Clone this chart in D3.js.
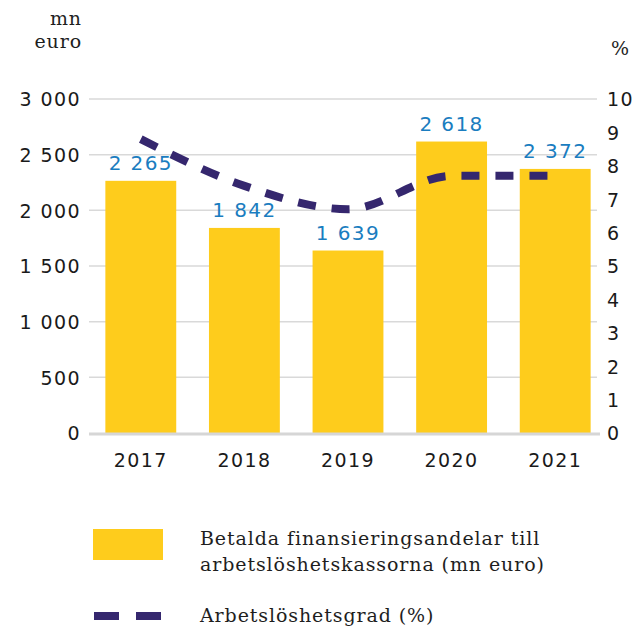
<!DOCTYPE html>
<html>
<head>
<meta charset="utf-8">
<script src="https://cdn.jsdelivr.net/npm/d3@7"></script>
<style>
  body { margin: 0; background: #fff; }
  .num { font-family: "DejaVu Sans", sans-serif; font-size: 19px; fill: #1a1a1a; letter-spacing: 1.4px; }
  .slab { font-family: "DejaVu Serif", serif; font-size: 19px; fill: #1e1e1e; letter-spacing: 0.9px; }
</style>
</head>
<body>
<svg id="chart" width="633" height="626"></svg>
<script>
// data
var years = ["2017", "2018", "2019", "2020", "2021"];
var payments = [2265, 1842, 1639, 2618, 2372];   // mn euro
var unemployment = [8.8, 7.4, 6.7, 7.7, 7.7];    // %
var leftTicks = [0, 500, 1000, 1500, 2000, 2500, 3000];
var rightTicks = [0, 1, 2, 3, 4, 5, 6, 7, 8, 9, 10];
var legendBar = ["Betalda finansieringsandelar till", "arbetslöshetskassorna (mn euro)"];
var legendLine = "Arbetslöshetsgrad (%)";

var yellow = "#fecc1c";
var purple = "#35276e";
var blue = "#1a7dc0";

var svg = d3.select("#chart");

var top0 = 99, bottom0 = 433;
var x = d3.scaleBand().domain(years).range([89, 607]).paddingInner(0.316).paddingOuter(0.158);
var yL = d3.scaleLinear().domain([0, 3000]).range([bottom0, top0]);
var yR = d3.scaleLinear().domain([0, 10]).range([bottom0, top0]);

var spaced = function(d) { return d3.format(",")(d).replace(/,/g, " "); };

// grid lines
svg.append("g").selectAll("line")
  .data(leftTicks.filter(function(d) { return d > 0; }))
  .enter().append("line")
    .attr("x1", 89).attr("x2", 597)
    .attr("y1", function(d) { return yL(d); })
    .attr("y2", function(d) { return yL(d); })
    .attr("stroke", "#d9d9d9").attr("stroke-width", 1.5);

// left axis labels
var axL = svg.append("g").attr("transform", "translate(89,0)")
  .call(d3.axisLeft(yL).tickValues(leftTicks).tickFormat(spaced).tickSize(0).tickPadding(8));
axL.select(".domain").remove();
axL.selectAll("text").attr("class", "num").attr("fill", null).attr("dy", "0.36em");

// right axis labels
var axR = svg.append("g").attr("transform", "translate(600,0)")
  .call(d3.axisRight(yR).tickValues(rightTicks).tickSize(0).tickPadding(7));
axR.select(".domain").remove();
axR.selectAll("text").attr("class", "num").attr("fill", null).attr("dy", "0.36em");

// bars
svg.append("g").selectAll("rect")
  .data(payments)
  .enter().append("rect")
    .attr("x", function(d, i) { return x(years[i]); })
    .attr("width", x.bandwidth())
    .attr("y", function(d) { return yL(d); })
    .attr("height", function(d) { return bottom0 - yL(d); })
    .attr("fill", yellow);

// baseline
svg.append("line")
  .attr("x1", 89).attr("x2", 600)
  .attr("y1", bottom0 + 1).attr("y2", bottom0 + 1)
  .attr("stroke", "#d6d6d6").attr("stroke-width", 3);

// bar value labels
svg.append("g").selectAll("text")
  .data(payments)
  .enter().append("text")
    .attr("class", "num")
    .style("fill", blue)
    .style("font-size", "20px")
    .attr("text-anchor", "middle")
    .attr("x", function(d, i) { return x(years[i]) + x.bandwidth() / 2; })
    .attr("y", function(d) { return yL(d) - 11; })
    .text(spaced);

// year labels
var axX = svg.append("g").attr("transform", "translate(0," + bottom0 + ")")
  .call(d3.axisBottom(x).tickSize(0).tickPadding(21));
axX.select(".domain").remove();
axX.selectAll("text").attr("class", "num").attr("fill", null);

// unemployment line
var line = d3.line()
  .curve(d3.curveMonotoneX)
  .x(function(d, i) { return x(years[i]) + x.bandwidth() / 2; })
  .y(function(d) { return yR(d); });

svg.append("path")
  .datum(unemployment)
  .attr("d", line)
  .attr("fill", "none")
  .attr("stroke", purple)
  .attr("stroke-width", 8)
  .attr("stroke-dasharray", "18,16");

// axis unit titles
svg.append("text").attr("class", "slab").attr("text-anchor", "end")
  .attr("x", 82).attr("y", 25).text("mn");
svg.append("text").attr("class", "slab").attr("text-anchor", "end")
  .attr("x", 82).attr("y", 48).text("euro");
svg.append("text").attr("class", "slab").attr("text-anchor", "start")
  .attr("x", 611).attr("y", 55).text("%");

// legend
svg.append("rect").attr("x", 93).attr("y", 529).attr("width", 70).attr("height", 31).attr("fill", yellow);
svg.append("g").selectAll("text")
  .data(legendBar)
  .enter().append("text")
    .attr("class", "slab")
    .attr("x", 200)
    .attr("y", function(d, i) { return 545 + i * 26; })
    .text(function(d) { return d; });

svg.append("line")
  .attr("x1", 94).attr("x2", 161)
  .attr("y1", 616).attr("y2", 616)
  .attr("stroke", purple).attr("stroke-width", 8)
  .attr("stroke-dasharray", "25,17");
svg.append("text").attr("class", "slab").attr("x", 200).attr("y", 622).text(legendLine);
</script>
</body>
</html>
